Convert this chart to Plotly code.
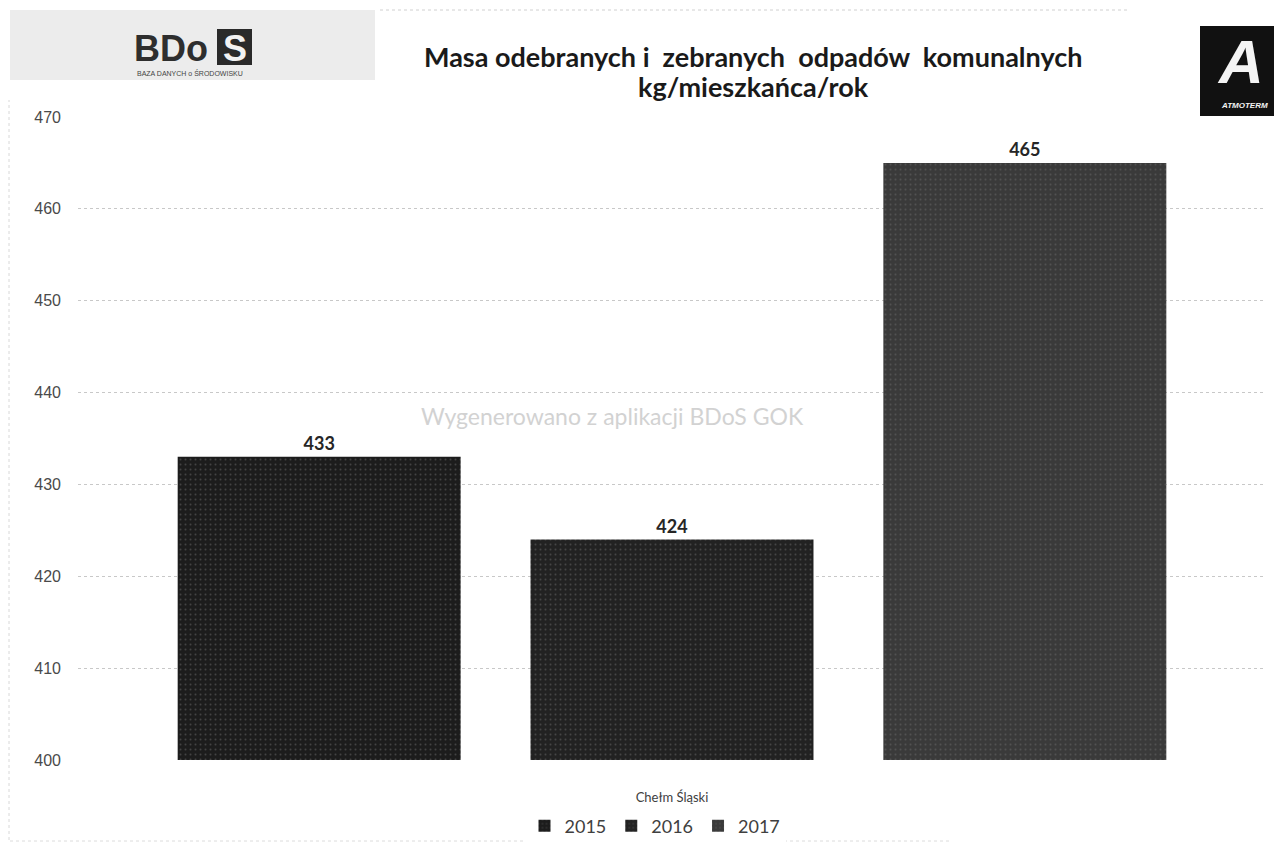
import plotly.graph_objects as go

categories = ["Chełm Śląski"]
years = ["2015", "2016", "2017"]
values = [433, 424, 465]
colors = ["#1c1c1c", "#222222", "#3a3a3a"]
y_ticks = [400, 410, 420, 430, 440, 450, 460, 470]

# page is offset by the default 8px body margin
OFF = 8
W, H = 1282 - 2 * OFF, 850 - 2 * OFF
L, R, T, B = 70, 8, 109, 82
PW = W - L - R
PH = H - T - B

fig = go.Figure()
for yr, v, c in zip(years, values, colors):
    fig.add_trace(go.Bar(
        x=categories, y=[v], name=yr,
        marker=dict(color=c, line=dict(width=0),
                    pattern=dict(shape=".", fgcolor="#6a6a6a", bgcolor=c, size=5, solidity=0.12)),
        text=[str(v)], texttemplate="<b>%{text}</b>", textposition="outside",
        textfont=dict(family="Lato", size=18, color="#262626"),
        cliponaxis=False,
    ))

fig.update_layout(
    width=W, height=H,
    margin=dict(l=L, r=R, t=T, b=B, autoexpand=False),
    paper_bgcolor="white", plot_bgcolor="white",
    barmode="group", bargap=0.109, bargroupgap=0.198,
    showlegend=True,
    legend=dict(orientation="h", x=(655 - OFF - L) / PW, xanchor="center",
                yref="container", y=1 - (826 - OFF) / H, yanchor="middle",
                font=dict(family="Lato", size=18, color="#404040"),
                itemwidth=30, tracegroupgap=0),
    font=dict(family="Lato"),
)
fig.update_yaxes(range=[400, 470], tickvals=y_ticks, showgrid=True,
                 gridcolor="#c8c8c8", griddash="dot", gridwidth=1,
                 zeroline=False, showline=False, ticks="",
                 ticklabelstandoff=16, automargin=False,
                 tickfont=dict(family="Liberation Sans", size=16, color="#4a4a4a"))
fig.update_xaxes(showline=False, ticks="", showgrid=False, automargin=False,
                 ticklabelstandoff=28,
                 tickfont=dict(family="Lato", size=13, color="#404040"))

# convert reference page pixels to paper coordinates
def px(xp):
    return (xp - OFF - L) / PW

def py(yp):
    return (H - B - (yp - OFF)) / PH

shapes = []
# faint scan border lines
shapes.append(dict(type="line", xref="paper", yref="paper", x0=px(9), x1=px(9),
                   y0=py(840), y1=py(100), line=dict(color="#d8d8d8", width=1, dash="dot")))
shapes.append(dict(type="line", xref="paper", yref="paper", x0=px(10), x1=px(950),
                   y0=py(841), y1=py(841), line=dict(color="#dcdcdc", width=1, dash="dot")))
# BDoS logo background
shapes.append(dict(type="rect", xref="paper", yref="paper",
                   x0=px(10), x1=px(375), y0=py(80), y1=py(10),
                   fillcolor="#ececec", line=dict(width=0), layer="below"))
# S box
shapes.append(dict(type="rect", xref="paper", yref="paper",
                   x0=px(217), x1=px(252), y0=py(65), y1=py(29),
                   fillcolor="#2a2a2a", line=dict(width=0)))
# Atmoterm logo box
shapes.append(dict(type="rect", xref="paper", yref="paper",
                   x0=px(1200), x1=px(1282), y0=py(116), y1=py(26),
                   fillcolor="#111111", line=dict(width=0)))
# top faint line
shapes.append(dict(type="line", xref="paper", yref="paper",
                   x0=px(380), x1=px(1130), y0=py(10), y1=py(10),
                   line=dict(color="#d0d0d0", width=1, dash="dot")))
fig.update_layout(shapes=shapes)

def ann(text, xp, yp, size, color, family="Lato", bold=False, italic=False, xanchor="center"):
    t = text
    if bold:
        t = "<b>" + t + "</b>"
    if italic:
        t = "<i>" + t + "</i>"
    return dict(text=t, xref="paper", yref="paper",
                x=px(xp), y=py(yp),
                xanchor=xanchor, yanchor="middle", showarrow=False,
                font=dict(family=family, size=size, color=color))

nb = "\u00a0"
annotations = [
    ann("Masa odebranych" + nb + "i" + nb + " zebranych" + nb * 2 + "odpadów" + nb * 2 + "komunalnych",
        753, 57, 27, "#1a1a1a", bold=True),
    ann("kg/mieszkańca/rok", 753, 86, 27, "#1a1a1a", bold=True),
    ann("Wygenerowano z aplikacji BDoS GOK", 612, 416, 23, "#d2d2d2"),
    ann("BDo", 171, 48, 36, "#2e2e2e", family="Liberation Sans", bold=True),
    ann("S", 234.5, 48, 36, "#f2f2f2", family="Liberation Sans", bold=True),
    ann("BAZA DANYCH o ŚRODOWISKU", 190, 73, 7, "#444444", family="Liberation Sans"),
    ann("A", 1240, 62, 62, "#f4f4f4", family="Liberation Sans", bold=True, italic=True),
    ann("ATMOTERM", 1270, 105, 8, "#f4f4f4", family="Liberation Sans", bold=True, italic=True,
        xanchor="right"),
]
fig.update_layout(annotations=annotations)

fig.write_html("out.html")
